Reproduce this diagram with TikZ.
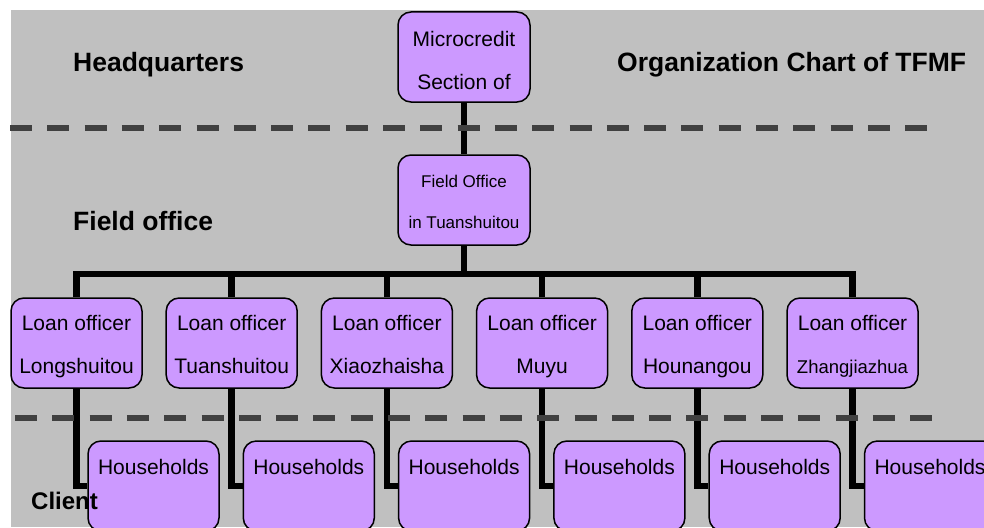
\documentclass[tikz,border=0pt]{standalone}
\usepackage{fontspec}
\setmainfont{Liberation Sans}
\definecolor{panel}{HTML}{C0C0C0}
\definecolor{boxfill}{HTML}{CC99FF}
\definecolor{divider}{HTML}{404040}
\begin{document}
\begin{tikzpicture}[x=1pt,y=-1pt,
  unitbox/.style={draw=black, line width=1.5pt, fill=boxfill, rounded corners=13pt,
    minimum width=131pt, minimum height=90pt, inner sep=0pt, align=center,
    font=\fontsize{21}{43}\selectfont},
  conn/.style={black, line width=6.5pt, line join=miter},
  divline/.style={divider, line width=6.5pt, dash pattern=on 22pt off 15.3pt},
  heading/.style={font=\bfseries\fontsize{26.5}{30}\selectfont, anchor=base west, inner sep=0pt}]
\useasboundingbox (0,0) rectangle (984,527);
\fill[panel] (11,10) rectangle (984,527);

% organisation units
\node[unitbox, minimum width=132pt] (mc) at (464,57) {\rule{0pt}{22pt}Microcredit\\Section of};
\node[unitbox, minimum width=132pt, font=\fontsize{17}{41}\selectfont] (fo) at (464,200)
  {\rule{0pt}{17pt}Field Office\\in Tuanshuitou};
\foreach \i/\place in {1/Longshuitou, 2/Tuanshuitou, 3/Xiaozhaisha, 4/Muyu, 5/Hounangou,
    6/{\fontsize{18.5}{43}\selectfont Zhangjiazhua}}
  \node[unitbox] (lo\i) at ({76.5+155.2*(\i-1)},343)
    {\rule{0pt}{22pt}Loan officer\\\place\rule[-4pt]{0pt}{4pt}};
\foreach \i in {1,...,6}
  \node[unitbox] (hh\i) at ({153.5+155.3*(\i-1)},486) {\rule{0pt}{19pt}Households\\\mbox{}};

% reporting lines
\coordinate (bus) at (464,274);
\draw[conn] (mc.south) -- (fo.north);
\draw[conn] (fo.south) -- (bus);
\draw[conn] (lo1.north) |- (bus) -| (lo6.north);
\foreach \i in {2,...,5}
  \draw[conn] (lo\i.north) -- (lo\i.north |- bus);
\foreach \i in {1,...,6}
  \draw[conn] (lo\i.south) |- (hh\i.west);

% level dividers
\draw[divline] (10,128) -- (928,128);
\draw[divline] (15,418) -- (933,418);

% level labels and title
\node[heading] (hq) at (73,71) {Headquarters};
\node[heading] (title) at (617,71.5) {Organization Chart of TFMF};
\node[heading] (field) at (73,230.5) {Field office};
\node[heading, font=\bfseries\fontsize{24}{28}\selectfont] (client) at (31,509) {Client};
\end{tikzpicture}
\end{document}
